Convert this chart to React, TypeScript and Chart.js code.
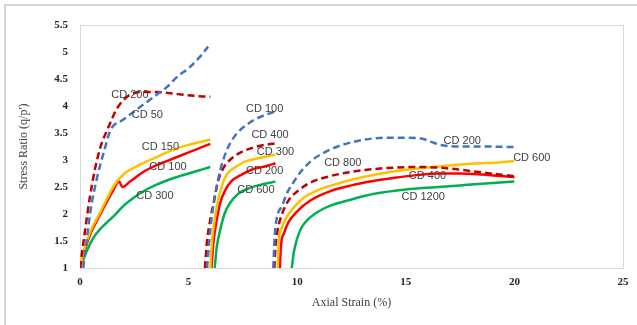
import React, { useEffect, useRef } from "react";
import { Chart, registerables } from "chart.js";

Chart.register(...registerables);

// ---------- Data (axial strain %, stress ratio q/p') ----------
// Group 1 (start at 0 %)
const strainG1CD50 = [0.15, 0.3, 0.5, 0.8, 1.1, 1.4, 2.0, 2.5, 3.0, 3.5, 4.0, 4.5, 5.0, 5.5, 5.9];
const ratioG1CD50 = [1.0, 1.5, 2.1, 2.7, 3.15, 3.55, 3.75, 3.9, 4.05, 4.2, 4.35, 4.55, 4.7, 4.9, 5.1];

const strainG1CD200 = [0, 0.2, 0.45, 0.7, 0.95, 1.3, 1.7, 2.2, 2.8, 3.5, 4.5, 5.5, 6.0];
const ratioG1CD200 = [1.0, 1.6, 2.3, 2.85, 3.25, 3.6, 3.95, 4.18, 4.26, 4.26, 4.22, 4.18, 4.17];

const strainG1CD150 = [0, 0.2, 0.5, 0.85, 1.2, 1.6, 2.07, 2.5, 3.0, 3.5, 4.0, 4.5, 5.0, 5.5, 6.0];
const ratioG1CD150 = [1.0, 1.35, 1.7, 1.97, 2.25, 2.55, 2.76, 2.86, 2.96, 3.05, 3.14, 3.22, 3.28, 3.33, 3.38];

const strainG1CD100 = [0, 0.2, 0.5, 0.85, 1.2, 1.5, 1.8, 1.95, 2.3, 3.0, 3.5, 4.0, 4.5, 5.0, 5.5, 6.0];
const ratioG1CD100 = [1.0, 1.3, 1.65, 1.93, 2.2, 2.42, 2.6, 2.5, 2.6, 2.8, 2.9, 2.98, 3.06, 3.14, 3.22, 3.3];

const strainG1CD300 = [0, 0.3, 0.6, 1.0, 1.6, 2.0, 2.5, 3.0, 3.5, 4.0, 4.5, 5.0, 5.5, 6.0];
const ratioG1CD300 = [1.0, 1.3, 1.55, 1.75, 1.98, 2.15, 2.31, 2.44, 2.54, 2.62, 2.69, 2.75, 2.81, 2.87];

// Group 2 (start near 6 %)
const strainG2CD100 = [5.85, 5.95, 6.05, 6.2, 6.45, 6.8, 7.2, 7.6, 8.2, 9.0];
const ratioG2CD100 = [1.0, 1.5, 1.9, 2.3, 2.8, 3.22, 3.48, 3.63, 3.78, 3.9];

const strainG2CD400 = [5.75, 5.85, 6.0, 6.15, 6.35, 6.6, 6.9, 7.4, 7.9, 8.5, 9.1];
const ratioG2CD400 = [1.0, 1.5, 1.9, 2.2, 2.6, 2.85, 3.0, 3.14, 3.22, 3.28, 3.31];

const strainG2CD300 = [6.0, 6.08, 6.2, 6.38, 6.6, 6.8, 7.2, 7.6, 8.3, 9.0];
const ratioG2CD300 = [1.0, 1.5, 1.9, 2.3, 2.6, 2.76, 2.88, 2.97, 3.04, 3.1];

const strainG2CD200 = [6.05, 6.15, 6.3, 6.45, 6.7, 6.95, 7.4, 7.9, 8.5, 9.0];
const ratioG2CD200 = [1.0, 1.5, 1.9, 2.2, 2.45, 2.6, 2.72, 2.82, 2.88, 2.94];

const strainG2CD600 = [6.2, 6.3, 6.45, 6.65, 6.9, 7.3, 7.8, 8.4, 9.0];
const ratioG2CD600 = [1.0, 1.4, 1.7, 2.0, 2.2, 2.38, 2.48, 2.55, 2.6];

// Group 3 (start near 9 %)
const strainG3CD200 = [8.9, 8.95, 9.05, 9.3, 9.55, 9.8, 10.2, 10.7, 11.3, 12.0, 13.0, 14.0, 15.0, 15.7, 16.2, 16.6, 17.5, 18.5, 20.0];
const ratioG3CD200 = [1.0, 1.5, 1.9, 2.15, 2.4, 2.57, 2.8, 3.0, 3.15, 3.27, 3.37, 3.41, 3.41, 3.4, 3.33, 3.28, 3.25, 3.25, 3.24];

const strainG3CD800 = [8.95, 9.0, 9.1, 9.3, 9.6, 10.1, 10.6, 11.5, 12.5, 13.5, 14.5, 15.5, 16.5, 17.5, 18.5, 20.0];
const ratioG3CD800 = [1.0, 1.4, 1.7, 2.0, 2.25, 2.45, 2.58, 2.7, 2.78, 2.83, 2.86, 2.87, 2.86, 2.82, 2.77, 2.7];

const strainG3CD600 = [9.1, 9.15, 9.3, 9.45, 9.8, 10.3, 11.0, 12.0, 13.0, 14.0, 15.0, 16.0, 17.0, 18.0, 19.0, 20.0];
const ratioG3CD600 = [1.0, 1.5, 1.75, 1.9, 2.1, 2.3, 2.45, 2.58, 2.68, 2.76, 2.82, 2.86, 2.9, 2.93, 2.95, 2.98];

const strainG3CD400 = [9.2, 9.25, 9.4, 9.6, 10.0, 10.6, 11.5, 12.5, 13.5, 14.5, 15.5, 16.5, 17.5, 18.5, 20.0];
const ratioG3CD400 = [1.0, 1.4, 1.65, 1.85, 2.05, 2.25, 2.42, 2.53, 2.61, 2.67, 2.72, 2.75, 2.75, 2.73, 2.68];

const strainG3CD1200 = [9.75, 9.85, 10.0, 10.2, 10.5, 11.0, 11.5, 12.5, 13.5, 14.5, 15.5, 16.5, 17.5, 18.5, 20.0];
const ratioG3CD1200 = [1.0, 1.3, 1.55, 1.75, 1.9, 2.05, 2.15, 2.27, 2.37, 2.43, 2.47, 2.5, 2.53, 2.56, 2.6];

// Curve annotations
const annotationTexts = ["CD 200", "CD 50", "CD 150", "CD 100", "CD 300", "CD 100", "CD 400", "CD 300", "CD 200", "CD 600", "CD 200", "CD 600", "CD 800", "CD 400", "CD 1200"];
const annotationStrain = [2.3, 3.1, 3.7, 4.05, 3.45, 8.5, 8.75, 9.0, 8.5, 8.1, 17.6, 20.8, 12.1, 16.0, 15.8];
const annotationRatio = [4.2, 3.83, 3.24, 2.87, 2.33, 3.94, 3.46, 3.15, 2.8, 2.44, 3.35, 3.04, 2.94, 2.7, 2.31];

const xTicksMin = 0;
const xTicksMax = 25;
const xTickStep = 5;
const yTicksMin = 1;
const yTicksMax = 5.5;
const yTickStep = 0.5;

const BLUE = "#4472C4";
const DARKRED = "#C00000";
const ORANGE = "#FFC000";
const RED = "#FF0000";
const GREEN = "#00B050";

type Series = { xs: number[]; ys: number[]; color: string; dashed: boolean; name: string };

const series: Series[] = [
  { name: "G1 CD 50", xs: strainG1CD50, ys: ratioG1CD50, color: BLUE, dashed: true },
  { name: "G1 CD 200", xs: strainG1CD200, ys: ratioG1CD200, color: DARKRED, dashed: true },
  { name: "G1 CD 150", xs: strainG1CD150, ys: ratioG1CD150, color: ORANGE, dashed: false },
  { name: "G1 CD 100", xs: strainG1CD100, ys: ratioG1CD100, color: RED, dashed: false },
  { name: "G1 CD 300", xs: strainG1CD300, ys: ratioG1CD300, color: GREEN, dashed: false },
  { name: "G2 CD 100", xs: strainG2CD100, ys: ratioG2CD100, color: BLUE, dashed: true },
  { name: "G2 CD 400", xs: strainG2CD400, ys: ratioG2CD400, color: DARKRED, dashed: true },
  { name: "G2 CD 300", xs: strainG2CD300, ys: ratioG2CD300, color: ORANGE, dashed: false },
  { name: "G2 CD 200", xs: strainG2CD200, ys: ratioG2CD200, color: RED, dashed: false },
  { name: "G2 CD 600", xs: strainG2CD600, ys: ratioG2CD600, color: GREEN, dashed: false },
  { name: "G3 CD 200", xs: strainG3CD200, ys: ratioG3CD200, color: BLUE, dashed: true },
  { name: "G3 CD 800", xs: strainG3CD800, ys: ratioG3CD800, color: DARKRED, dashed: true },
  { name: "G3 CD 600", xs: strainG3CD600, ys: ratioG3CD600, color: ORANGE, dashed: false },
  { name: "G3 CD 400", xs: strainG3CD400, ys: ratioG3CD400, color: RED, dashed: false },
  { name: "G3 CD 1200", xs: strainG3CD1200, ys: ratioG3CD1200, color: GREEN, dashed: false },
];

const frameAndLabels = {
  id: "frameAndLabels",
  beforeDatasetsDraw(chart: any) {
    const { ctx, chartArea } = chart;
    ctx.save();
    ctx.strokeStyle = "#d9d9d9";
    ctx.lineWidth = 1;
    ctx.strokeRect(chartArea.left + 0.5, chartArea.top + 0.5, chartArea.right - chartArea.left, chartArea.bottom - chartArea.top);
    ctx.restore();
  },
  afterDatasetsDraw(chart: any) {
    const { ctx } = chart;
    const xs = chart.scales.x;
    const ys = chart.scales.y;
    ctx.save();
    ctx.font = "11px 'Liberation Sans', Arial, sans-serif";
    ctx.fillStyle = "#404040";
    ctx.textAlign = "center";
    ctx.textBaseline = "middle";
    annotationTexts.forEach((t, i) => {
      ctx.fillText(t, xs.getPixelForValue(annotationStrain[i]), ys.getPixelForValue(annotationRatio[i]));
    });
    ctx.restore();
  },
};

export default function App() {
  const canvasRef = useRef<HTMLCanvasElement | null>(null);

  useEffect(() => {
    if (!canvasRef.current) return;
    const chart = new Chart(canvasRef.current, {
      type: "scatter",
      data: {
        datasets: series.map((s) => ({
          label: s.name,
          data: s.xs.map((x, i) => ({ x, y: s.ys[i] })),
          showLine: true,
          borderColor: s.color,
          backgroundColor: s.color,
          borderWidth: 2.5,
          borderDash: s.dashed ? [7, 4] : [],
          pointRadius: 0,
          pointHoverRadius: 0,
          cubicInterpolationMode: "monotone" as const,
          fill: false,
        })),
      },
      options: {
        responsive: false,
        animation: false,
        layout: { padding: { left: 0, top: 25, right: 14, bottom: 0 } },
        plugins: {
          legend: { display: false },
          tooltip: { enabled: false },
        },
        scales: {
          x: {
            type: "linear",
            min: xTicksMin,
            max: xTicksMax,
            ticks: {
              stepSize: xTickStep,
              color: "#262626",
              padding: 8,
              font: { family: "'Liberation Serif', 'Times New Roman', serif", size: 11, weight: "bold" },
            },
            grid: { display: false, drawTicks: false },
            border: { display: true, color: "#d9d9d9" },
            title: {
              display: true,
              text: "Axial Strain (%)",
              color: "#404040",
              padding: { top: 0, bottom: 15 },
              font: { family: "'Liberation Serif', 'Times New Roman', serif", size: 12 },
            },
            afterFit(scale: any) {
              scale.height = 57;
            },
          },
          y: {
            type: "linear",
            min: yTicksMin,
            max: yTicksMax,
            ticks: {
              stepSize: yTickStep,
              color: "#262626",
              padding: 12,
              font: { family: "'Liberation Serif', 'Times New Roman', serif", size: 11, weight: "bold" },
              callback: (v: any) => String(v),
            },
            grid: { display: false, drawTicks: false },
            border: { display: true, color: "#d9d9d9" },
            title: {
              display: true,
              text: "Stress Ratio (q/p')",
              color: "#404040",
              padding: { top: 17, bottom: 0 },
              font: { family: "'Liberation Serif', 'Times New Roman', serif", size: 12 },
            },
            afterFit(scale: any) {
              scale.width = 80;
            },
          },
        },
      },
      plugins: [frameAndLabels],
    });
    return () => chart.destroy();
  }, []);

  return (
    <div style={{ position: "fixed", left: 0, top: 0, width: 637, height: 325, background: "#fff" }}>
      <div
        style={{
          position: "absolute",
          left: 4,
          top: 4,
          width: 633,
          height: 321,
          borderLeft: "2px solid #d4d4d4",
          borderTop: "2px solid #d4d4d4",
          boxSizing: "border-box",
        }}
      />
      <canvas ref={canvasRef} width={637} height={325} style={{ position: "absolute", left: 0, top: 0 }} />
    </div>
  );
}
